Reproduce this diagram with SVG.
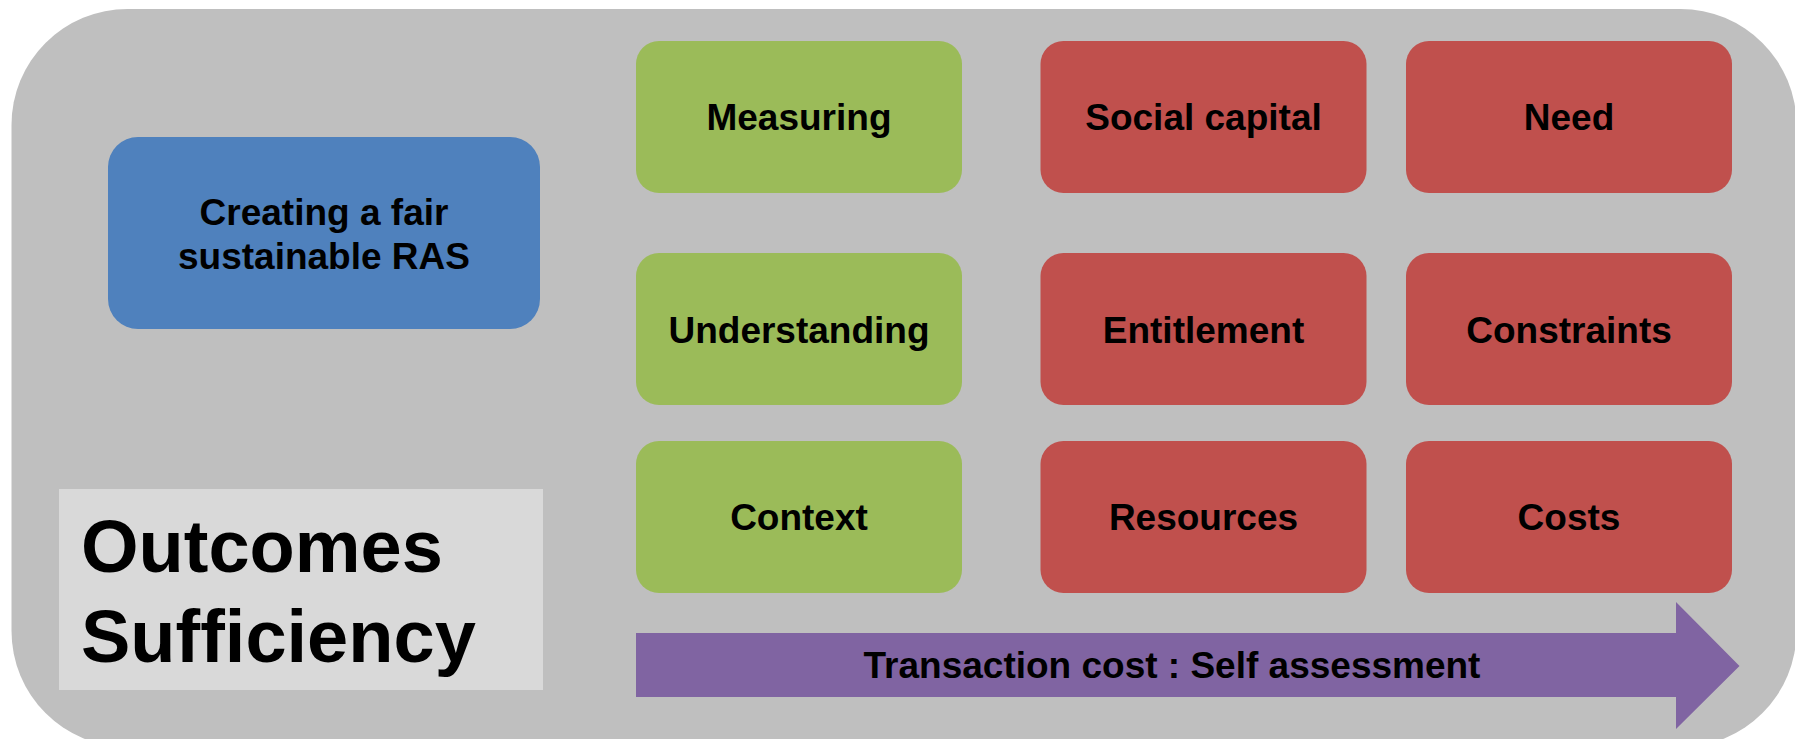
<svg xmlns="http://www.w3.org/2000/svg" width="1795" height="739" viewBox="0 0 1795 739">
<style>
  .t{font-family:"Liberation Sans",Arial,sans-serif;font-weight:bold;fill:#000;text-anchor:middle;font-size:37px}
  .big{font-family:"Liberation Sans",Arial,sans-serif;font-weight:bold;fill:#000;font-size:74px}
  .g{fill:#9BBB59}
  .r{fill:#C0504D}
</style>
<rect width="1795" height="739" fill="#FFFFFF"/>
<g id="background">
  <rect x="11.5" y="9" width="1785" height="738" rx="116" ry="116" fill="#BFBFBF"/>
</g>
<g id="goal">
  <rect x="108" y="137" width="432" height="192" rx="30" fill="#4F81BD"/>
  <text class="t" x="324" y="225">Creating a fair</text>
  <text class="t" x="324" y="269">sustainable RAS</text>
</g>
<g id="outcomes">
  <rect x="59" y="489" width="484" height="201" fill="#D9D9D9"/>
  <text class="big" x="81" y="572">Outcomes</text>
  <text class="big" x="81" y="662">Sufficiency</text>
</g>
<g id="measuring"><rect class="g" x="636" y="41" width="326" height="152" rx="23"/><text class="t" x="799" y="130">Measuring</text></g>
<g id="social-capital"><rect class="r" x="1040.5" y="41" width="326" height="152" rx="23"/><text class="t" x="1203.5" y="130">Social capital</text></g>
<g id="need"><rect class="r" x="1406" y="41" width="326" height="152" rx="23"/><text class="t" x="1569" y="130">Need</text></g>
<g id="understanding"><rect class="g" x="636" y="253" width="326" height="152" rx="23"/><text class="t" x="799" y="343">Understanding</text></g>
<g id="entitlement"><rect class="r" x="1040.5" y="253" width="326" height="152" rx="23"/><text class="t" x="1203.5" y="343">Entitlement</text></g>
<g id="constraints"><rect class="r" x="1406" y="253" width="326" height="152" rx="23"/><text class="t" x="1569" y="343">Constraints</text></g>
<g id="context"><rect class="g" x="636" y="441" width="326" height="152" rx="23"/><text class="t" x="799" y="530">Context</text></g>
<g id="resources"><rect class="r" x="1040.5" y="441" width="326" height="152" rx="23"/><text class="t" x="1203.5" y="530">Resources</text></g>
<g id="costs"><rect class="r" x="1406" y="441" width="326" height="152" rx="23"/><text class="t" x="1569" y="530">Costs</text></g>
<g id="connectors">
  <g id="transaction-arrow">
    <polygon points="636,633 1676,633 1676,602 1739.5,666 1676,729 1676,697 636,697" fill="#8064A2"/>
    <text class="t" x="1172" y="678">Transaction cost : Self assessment</text>
  </g>
</g>
</svg>
